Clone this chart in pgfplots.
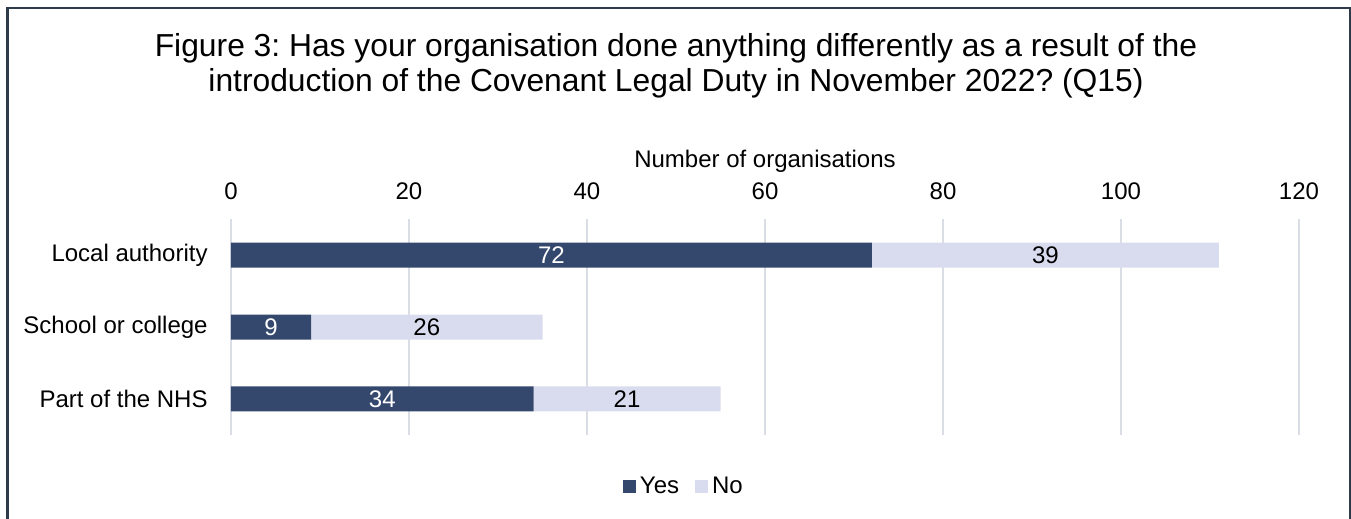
\documentclass[border=0pt]{standalone}
\usepackage{fontspec}
\setmainfont{Liberation Sans}
\usepackage{pgfplots}
\pgfplotsset{compat=1.18}
\definecolor{yescol}{RGB}{52,72,110}
\definecolor{nocol}{RGB}{217,220,238}
\definecolor{gridcol}{RGB}{217,222,228}
\definecolor{framecol}{RGB}{46,59,74}
\frenchspacing
\begin{document}
\begin{tikzpicture}
\path[use as bounding box] (0,0) rectangle (675.5pt,259.5pt);
\draw[framecol, line width=1.3pt] (3.75pt,-1pt) -- (3.75pt,255.5pt) -- (675pt,255.5pt) -- (675pt,-1pt);
\node[anchor=base, inner sep=0pt, font=\fontsize{15.9}{18}\selectfont] at (338pt,231pt) {Figure 3: Has your organisation done anything differently as a result of the};
\node[anchor=base, inner sep=0pt, font=\fontsize{15.9}{18}\selectfont] at (338pt,213.5pt) {introduction of the Covenant Legal Duty in November 2022? (Q15)};

\begin{axis}[
  at={(115.5pt,42pt)}, anchor=south west,
  scale only axis, width=534pt, height=108pt,
  xbar stacked, bar width=12.5pt,
  xmin=0, xmax=120, ymin=-0.5, ymax=2.5, y dir=reverse,
  xtick={0,20,...,120}, ytick={0,1,2},
  yticklabels={Local authority, School or college, Part of the NHS},
  xticklabel pos=upper,
  xmajorgrids, major grid style={gridcol, line width=0.9pt},
  axis line style={draw=none}, major tick length=0pt,
  tick label style={font=\fontsize{12}{14}\selectfont},
  /pgf/number format/assume math mode=true,
  xticklabel style={anchor=base, yshift=10pt},
  yticklabel style={anchor=east, inner sep=0pt, xshift=-11.5pt},
  xlabel={Number of organisations},
  xlabel style={at={(axis description cs:0.5,1)}, anchor=base, yshift=26pt, inner sep=0pt, font=\fontsize{12}{14}\selectfont},
  legend style={at={(axis description cs:0.425,-0.2407)}, anchor=center, draw=none, fill=none, legend columns=2, font=\fontsize{12}{14}\selectfont, /tikz/every even column/.append style={column sep=6pt}},
  legend image code/.code={\fill[#1] (0pt,-3.25pt) rectangle (6.5pt,3.25pt);},
]
\addplot[fill=yescol, draw=none] coordinates {(72,0) (9,1) (34,2)};
\addlegendentry{Yes}
\addplot[fill=nocol, draw=none] coordinates {(39,0) (26,1) (21,2)};
\addlegendentry{No}
\end{axis}

\begin{axis}[
  at={(115.5pt,42pt)}, anchor=south west,
  scale only axis, width=534pt, height=108pt,
  xmin=0, xmax=120, ymin=-0.5, ymax=2.5, y dir=reverse,
  hide axis,
]
\addplot[only marks, mark=*, mark size=0pt, mark options={draw=none, fill=none},
  nodes near coords, point meta=explicit symbolic,
  nodes near coords style={anchor=center, text=white, font=\fontsize{12}{14}\selectfont}]
  coordinates {(36,0) [72] (4.5,1) [9] (17,2) [34]};
\addplot[only marks, mark=*, mark size=0pt, mark options={draw=none, fill=none},
  nodes near coords, point meta=explicit symbolic,
  nodes near coords style={anchor=center, text=black, font=\fontsize{12}{14}\selectfont}]
  coordinates {(91.5,0) [39] (22,1) [26] (44.5,2) [21]};
\end{axis}
\end{tikzpicture}
\end{document}
